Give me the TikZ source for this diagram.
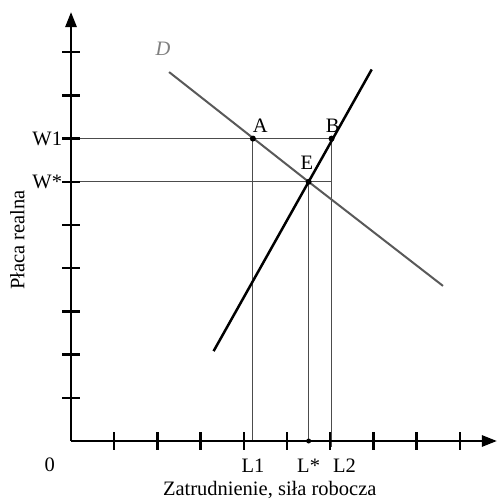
\documentclass[tikz,border=0pt]{standalone}
\usepackage{fontspec}
\setmainfont{Liberation Serif}
\usetikzlibrary{arrows.meta}

\begin{document}
\begin{tikzpicture}[x=43.2pt,y=43.2pt,
    axis/.style={line width=2.6pt,-{Triangle[length=15pt,width=11pt]}},
    guide/.style={line width=0.9pt,black!70},
    dot/.style={circle,fill=black,inner sep=0pt,minimum size=6pt},
    lbl/.style={font=\fontsize{20.5}{24}\selectfont,inner sep=1pt}]
    \useasboundingbox (-1.644,-1.412) rectangle (9.861,10.208);

    % Key points
    \coordinate (O) at (0,0);
    \coordinate (A) at (4.21,7);
    \coordinate (B) at (6.03,7);
    \coordinate (E) at (5.5,6);
    \coordinate (W1) at (0,7);
    \coordinate (Wst) at (0,6);
    \coordinate (Xend) at (9.86,0);
    \coordinate (Yend) at (0,9.93);

    % Guide lines
    \draw[guide] (W1) -- (B);
    \draw[guide] (Wst) -- (6.03,6);
    \draw[guide] (A) -- (A |- O);
    \draw[guide] (E) -- (E |- O);
    \draw[guide] (B) -- ([yshift=-0.2cm]B |- O);

    % Demand and supply
    \draw[line width=2pt,black!65] (2.27,8.54) -- (E) -- (8.61,3.59);
    \draw[line width=2.5pt] (3.3,2.08) -- (E) -- (6.96,8.6);

    % Axes
    \draw[axis] (O) -- (Yend);
    \draw[axis] (O) -- (Xend);

    % Ticks
    \foreach \k in {1,...,9} {
        \draw[line width=2.3pt] (-0.2,\k) -- (0.2,\k);
        \draw[line width=2.3pt] (\k,-0.2) -- (\k,0.2);
    }

    % Points
    \node[dot] (pA) at (A) {};
    \node[dot] (pB) at (B) {};
    \node[dot] (pE) at (E) {};
    \node[dot,minimum size=5pt] (pL) at (E |- O) {};

    % Labels
    \node[lbl] (lA) at (4.38,7.29) {A};
    \node[lbl] (lB) at (6.06,7.29) {B};
    \node[lbl] (lE) at (5.46,6.44) {E};
    \node[lbl,black!50] (lD) at (2.13,9.08) {\itshape D};
    \node[lbl,anchor=east] (lW1) at (-0.18,7) {W1};
    \node[lbl,anchor=east] (lWst) at (-0.18,6) {W*};
    \node[lbl] (l0) at (-0.49,-0.56) {0};
    \node[lbl] (lL1) at (4.21,-0.58) {L1};
    \node[lbl] (lLst) at (5.5,-0.58) {L*};
    \node[lbl] (lL2) at (6.33,-0.58) {L2};
    \node[lbl] (xlab) at (4.6,-1.14) {Zatrudnienie, siła robocza};
    \node[lbl,rotate=90] (ylab) at (-1.24,4.65) {Płaca realna};
\end{tikzpicture}
\end{document}
